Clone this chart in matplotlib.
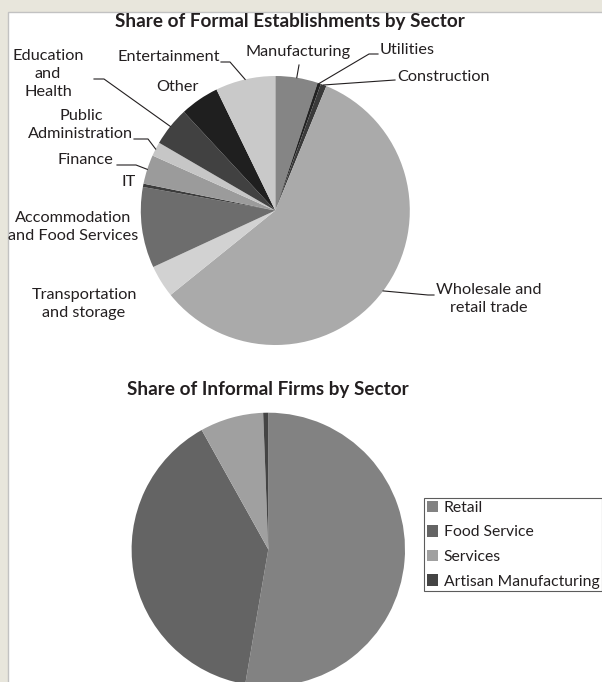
#!/usr/bin/env python3
"""Two pie charts: formal establishments and informal firms by sector."""
import matplotlib

matplotlib.use("Agg")
import matplotlib.pyplot as plt
import numpy as np
from matplotlib.patches import Rectangle

W, H = 602, 682  # canvas size in pixels (dpi 100)

plt.rcParams.update({
    "font.family": ["Lato", "DejaVu Sans"],
    "font.size": 11.7,
    "text.color": "#231f20",
})
INK = "#231f20"

formal_sectors = [
    "Manufacturing", "Utilities", "Construction", "Wholesale and\nretail trade",
    "Transportation\nand storage", "Accommodation\nand Food Services", "IT", "Finance",
    "Public\nAdministration", "Education\nand\nHealth", "Other", "Entertainment",
]
formal_share = [5.1, 0.4, 0.7, 58.0, 3.9, 9.7, 0.4, 3.5, 1.7, 4.7, 4.7, 7.2]
formal_colors = [
    "#858585", "#222222", "#3a3a3a", "#aaaaaa", "#d2d2d2", "#6d6d6d",
    "#3c3c3c", "#9b9b9b", "#c6c6c6", "#414141", "#1f1f1f", "#c9c9c9",
]

informal_sectors = ["Retail", "Food Service", "Services", "Artisan Manufacturing"]
informal_share = [52.7, 39.2, 7.5, 0.6]
informal_colors = ["#828282", "#646464", "#a0a0a0", "#444444"]

# label placement in pixels from the top-left corner; leader = bend points
# between the text and the rim of the slice
formal_labels = {
    "Manufacturing": dict(xy=(298, 52), ha="center", leader=[(299, 65)]),
    "Utilities": dict(xy=(380, 50), ha="left", leader=[(378, 54), (369, 54)]),
    "Construction": dict(xy=(397, 77), ha="left", leader=[(395, 80)]),
    "Wholesale and\nretail trade": dict(xy=(489, 299), ha="center", leader=[(434, 295), (428, 295)]),
    "Transportation\nand storage": dict(xy=(84, 304), ha="center", leader=[]),
    "Accommodation\nand Food Services": dict(xy=(73, 227), ha="center", leader=[]),
    "IT": dict(xy=(136, 182), ha="right", leader=[]),
    "Finance": dict(xy=(113, 160), ha="right", leader=[(117, 165), (136, 165)]),
    "Public\nAdministration": dict(xy=(81, 125), ha="center", leader=[(134, 139), (148, 139)]),
    "Education\nand\nHealth": dict(xy=(48, 74), ha="center", leader=[(94, 79), (104, 79)]),
    "Other": dict(xy=(177, 87), ha="center", leader=[]),
    "Entertainment": dict(xy=(220, 57), ha="right", leader=[(221, 62), (230, 62)]),
}


def up(x, y):
    """Pixel position measured from the top -> axes data coordinates."""
    return x, H - y


def rim_point(wedge):
    mid = np.deg2rad((wedge.theta1 + wedge.theta2) / 2)
    cx, cy = wedge.center
    return cx + wedge.r * np.cos(mid), cy + wedge.r * np.sin(mid)


fig = plt.figure(figsize=(W / 100, H / 100), dpi=100, facecolor="#e8e6dc")
ax = fig.add_axes([0, 0, 1, 1])
ax.add_patch(Rectangle(up(8, H + 5), W, H - 7, facecolor="white",
                       edgecolor="#c2c2c2", linewidth=1.0, zorder=0))

# formal establishments
wedges, _ = ax.pie(formal_share, colors=formal_colors, startangle=90, counterclock=False,
                   center=up(275.3, 210.5), radius=134.5, frame=True,
                   wedgeprops=dict(linewidth=0))
for w, name in zip(wedges, formal_sectors):
    spec = formal_labels[name]
    ax.text(*up(*spec["xy"]), name, ha=spec["ha"], va="center", multialignment="center",
            linespacing=1.36, zorder=5)
    if spec["leader"]:
        pts = [up(*p) for p in spec["leader"]] + [rim_point(w)]
        xs, ys = zip(*pts)
        ax.plot(xs, ys, color=INK, linewidth=0.8, zorder=4)

ax.text(*up(290, 21), "Share of Formal Establishments by Sector", ha="center", va="center",
        fontsize=13.6, fontweight="bold")

# informal firms
iwedges, _ = ax.pie(informal_share, colors=informal_colors, startangle=90, counterclock=False,
                    center=up(268.3, 549.4), radius=136.7, frame=True,
                    wedgeprops=dict(linewidth=0))
ax.text(*up(268, 389), "Share of Informal Firms by Sector", ha="center", va="center",
        fontsize=13.6, fontweight="bold")

leg = ax.legend(iwedges, informal_sectors, loc="upper left",
                bbox_to_anchor=(424.3 / W, 1 - 498.3 / H), bbox_transform=fig.transFigure,
                frameon=True, fancybox=False, shadow=False, borderaxespad=0,
                borderpad=0.15, handlelength=0.75, handleheight=0.75, handletextpad=0.35,
                labelspacing=0.66, fontsize=11.3)
leg.get_frame().set_edgecolor("#333333")
leg.get_frame().set_linewidth(0.8)

ax.set_aspect("auto")
ax.set_xlim(0, W)
ax.set_ylim(0, H)
ax.axis("off")

fig.savefig("out.png", dpi=100, facecolor=fig.get_facecolor())
